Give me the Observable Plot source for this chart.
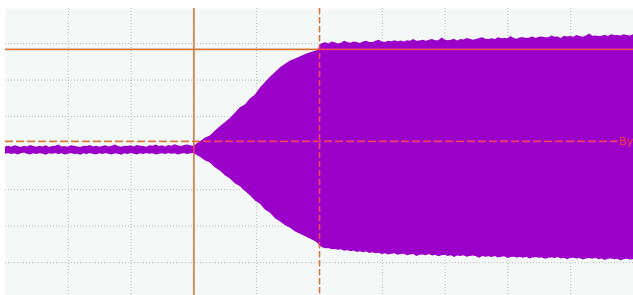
<!DOCTYPE html>
<html><head><meta charset="utf-8">
<script src="https://cdn.jsdelivr.net/npm/d3@7"></script>
<script src="https://cdn.jsdelivr.net/npm/@observablehq/plot@0.6"></script>
<style>html,body{margin:0;padding:0;background:#fff;overflow:hidden}</style>
</head><body><div id="chart"></div>
<script>
// Envelope of the captured waveform.
// time in horizontal divisions (0..10), amplitude in vertical divisions.
const preTime = [
  0.00,0.05,0.10,0.15,0.20,0.25,0.30,0.35,0.40,0.45,0.50,0.55,0.60,0.65,0.70,0.75,0.80,0.85,0.90,0.95,
  1.00,1.05,1.10,1.15,1.20,1.25,1.30,1.35,1.40,1.45,1.50,1.55,1.60,1.65,1.70,1.75,1.80,1.85,1.90,1.95,
  2.00,2.05,2.10,2.15,2.20,2.25,2.30,2.35,2.40,2.45,2.50,2.55,2.60,2.65,2.70,2.75,2.80,2.85,2.90,2.95
];
const preUpper = [
  0.17,0.19,0.16,0.20,0.18,0.15,0.19,0.17,0.21,0.18,
  0.16,0.19,0.17,0.20,0.15,0.18,0.19,0.22,0.17,0.18,
  0.16,0.20,0.19,0.17,0.15,0.19,0.18,0.21,0.17,0.19,
  0.16,0.18,0.20,0.17,0.19,0.22,0.18,0.16,0.19,0.18,
  0.20,0.17,0.21,0.19,0.18,0.16,0.20,0.19,0.22,0.18,
  0.20,0.17,0.21,0.19,0.23,0.20,0.18,0.21,0.22,0.20
];
const preLower = [
  -0.03,-0.01,-0.04,-0.02,-0.05,-0.02,0.00,-0.03,-0.05,-0.02,
  -0.04,-0.01,-0.03,-0.06,-0.02,-0.03,-0.01,-0.04,-0.02,-0.05,
  -0.03,-0.01,-0.04,-0.03,-0.06,-0.02,-0.04,-0.01,-0.03,-0.05,
  -0.02,-0.04,-0.01,-0.03,-0.05,-0.02,-0.03,-0.06,-0.02,-0.04,
  -0.01,-0.03,-0.05,-0.02,-0.04,-0.01,-0.03,-0.02,-0.05,-0.03,
  -0.02,-0.04,-0.01,-0.03,-0.02,-0.05,-0.03,-0.01,-0.04,-0.02
];
const riseTime = [
  3.00,3.06,3.11,3.18,3.26,3.34,3.42,3.50,3.58,3.66,3.74,3.82,3.90,3.98,
  4.06,4.14,4.22,4.30,4.38,4.46,4.54,4.62,4.70,4.78,4.86,4.94,4.98,5.02
];
const riseUpper = [
  0.18,0.26,0.32,0.41,0.47,0.60,0.72,0.83,0.95,1.09,1.24,1.32,1.48,1.59,
  1.78,1.93,2.08,2.21,2.34,2.43,2.52,2.58,2.64,2.70,2.75,2.79,2.82,2.97
];
const riseLower = [
  -0.01,-0.07,-0.12,-0.21,-0.27,-0.40,-0.49,-0.62,-0.71,-0.84,-0.92,-1.05,-1.17,-1.31,
  -1.40,-1.56,-1.65,-1.80,-1.89,-1.99,-2.06,-2.16,-2.22,-2.29,-2.36,-2.43,-2.48,-2.56
];
const postTime = [
  5.05,5.10,5.15,5.20,5.25,5.30,5.35,5.40,5.45,5.50,5.55,5.60,5.65,5.70,5.75,5.80,5.85,5.90,5.95,6.00,
  6.05,6.10,6.15,6.20,6.25,6.30,6.35,6.40,6.45,6.50,6.55,6.60,6.65,6.70,6.75,6.80,6.85,6.90,6.95,7.00,
  7.05,7.10,7.15,7.20,7.25,7.30,7.35,7.40,7.45,7.50,7.55,7.60,7.65,7.70,7.75,7.80,7.85,7.90,7.95,8.00,
  8.05,8.10,8.15,8.20,8.25,8.30,8.35,8.40,8.45,8.50,8.55,8.60,8.65,8.70,8.75,8.80,8.85,8.90,8.95,9.00,
  9.05,9.10,9.15,9.20,9.25,9.30,9.35,9.40,9.45,9.50,9.55,9.60,9.65,9.70,9.75,9.80,9.85,9.90,9.95,10.00
];
const postUpper = [
  3.00,3.02,2.99,3.04,3.02,2.99,3.01,3.06,3.03,3.01,3.04,3.03,3.00,3.04,3.06,3.03,3.03,3.06,3.09,3.04,
  3.03,3.06,3.05,3.08,3.05,3.07,3.04,3.08,3.06,3.11,3.06,3.07,3.09,3.06,3.09,3.11,3.08,3.08,3.15,3.10,
  3.08,3.09,3.12,3.07,3.11,3.10,3.14,3.12,3.09,3.11,3.14,3.16,3.12,3.11,3.13,3.11,3.16,3.13,3.14,3.13,
  3.19,3.14,3.12,3.16,3.16,3.14,3.15,3.18,3.14,3.17,3.18,3.16,3.16,3.21,3.17,3.18,3.14,3.20,3.18,3.19,
  3.17,3.22,3.19,3.17,3.21,3.26,3.20,3.21,3.19,3.20,3.23,3.19,3.24,3.22,3.22,3.21,3.24,3.22,3.21,3.24
];
const postLower = [
  -2.59,-2.62,-2.61,-2.65,-2.64,-2.66,-2.65,-2.69,-2.67,-2.70,-2.68,-2.72,-2.70,-2.73,-2.71,-2.75,-2.73,-2.76,-2.74,-2.78,
  -2.76,-2.79,-2.77,-2.76,-2.80,-2.78,-2.77,-2.81,-2.79,-2.78,-2.83,-2.80,-2.79,-2.81,-2.78,-2.82,-2.80,-2.84,-2.81,-2.80,
  -2.83,-2.81,-2.86,-2.82,-2.83,-2.81,-2.85,-2.83,-2.82,-2.84,-2.88,-2.83,-2.85,-2.84,-2.86,-2.83,-2.87,-2.85,-2.84,-2.89,
  -2.86,-2.85,-2.87,-2.86,-2.88,-2.85,-2.90,-2.87,-2.86,-2.88,-2.87,-2.91,-2.88,-2.87,-2.89,-2.86,-2.90,-2.88,-2.92,-2.89,
  -2.88,-2.90,-2.89,-2.93,-2.90,-2.89,-2.91,-2.88,-2.92,-2.90,-2.94,-2.91,-2.90,-2.92,-2.91,-2.95,-2.92,-2.91,-2.93,-2.92
];
const gridT = [1,2,3,4,5,6,7,8,9];
const gridV = [-3,-2,-1,0,1,2,3];
const cursorSolidT = [3];
const cursorDashedT = [5];
const cursorSolidV = [2.84];
const triggerLevel = [{v: 0.32, from: 0, to: 9.75}];
const triggerLabel = [{t: 9.77, v: 0.32, text: "By"}];

const PURPLE = "#9a00c8";
const ORANGE = "#d67a3c";
const RED = "#f0406e";
const GRID = "#b9bebb";

const time = [...preTime, ...riseTime, ...postTime];
const upper = [...preUpper, ...riseUpper, ...postUpper];
const lower = [...preLower, ...riseLower, ...postLower];
const wave = time.map((t, i) => ({t, hi: upper[i], lo: lower[i]}));

function cursors(color) {
  return [
    Plot.ruleX(cursorSolidT, {stroke: color, strokeWidth: 1.6}),
    Plot.ruleX(cursorDashedT, {stroke: color, strokeWidth: 1.6, strokeDasharray: "6,3"}),
    Plot.ruleY(cursorSolidV, {stroke: color, strokeWidth: 1.6}),
    Plot.ruleY(triggerLevel, {y: "v", x1: "from", x2: "to", stroke: color, strokeWidth: 1.6, strokeDasharray: "8,3"})
  ];
}

const chart = Plot.plot({
  width: 633, height: 295,
  marginLeft: 5, marginRight: 0, marginTop: 8, marginBottom: 0,
  x: {domain: [0, 10], axis: null},
  y: {domain: [-3.9, 3.96], axis: null},
  style: {background: "#ffffff", fontFamily: "DejaVu Sans, sans-serif"},
  marks: [
    Plot.frame({fill: "#f4f8f6", stroke: null}),
    Plot.ruleX(gridT, {stroke: GRID, strokeDasharray: "1,2"}),
    Plot.ruleY(gridV, {stroke: GRID, strokeDasharray: "1,2"}),
    ...cursors(ORANGE),
    Plot.areaY(wave, {x: "t", y1: "lo", y2: "hi", fill: PURPLE}),
    ...cursors(RED),
    Plot.text(triggerLabel, {x: "t", y: "v", text: "text", fill: "#ee3b45", fontSize: 11, textAnchor: "start"})
  ]
});
document.getElementById("chart").appendChild(chart);

// clip the red copies of the cursors to the waveform region
const ns = "http://www.w3.org/2000/svg";
const areaPath = chart.querySelector('g[aria-label="area"] path');
if (areaPath) {
  const defs = document.createElementNS(ns, "defs");
  const cp = document.createElementNS(ns, "clipPath");
  cp.setAttribute("id", "wave-clip");
  cp.setAttribute("clipPathUnits", "userSpaceOnUse");
  const p = document.createElementNS(ns, "path");
  p.setAttribute("d", areaPath.getAttribute("d"));
  cp.appendChild(p);
  defs.appendChild(cp);
  chart.insertBefore(defs, chart.firstChild);
  chart.querySelectorAll('g[stroke="' + RED + '"]').forEach(g => {
    const wrap = document.createElementNS(ns, "g");
    wrap.setAttribute("clip-path", "url(#wave-clip)");
    g.parentNode.insertBefore(wrap, g);
    wrap.appendChild(g);
  });
}
</script>
</body></html>
